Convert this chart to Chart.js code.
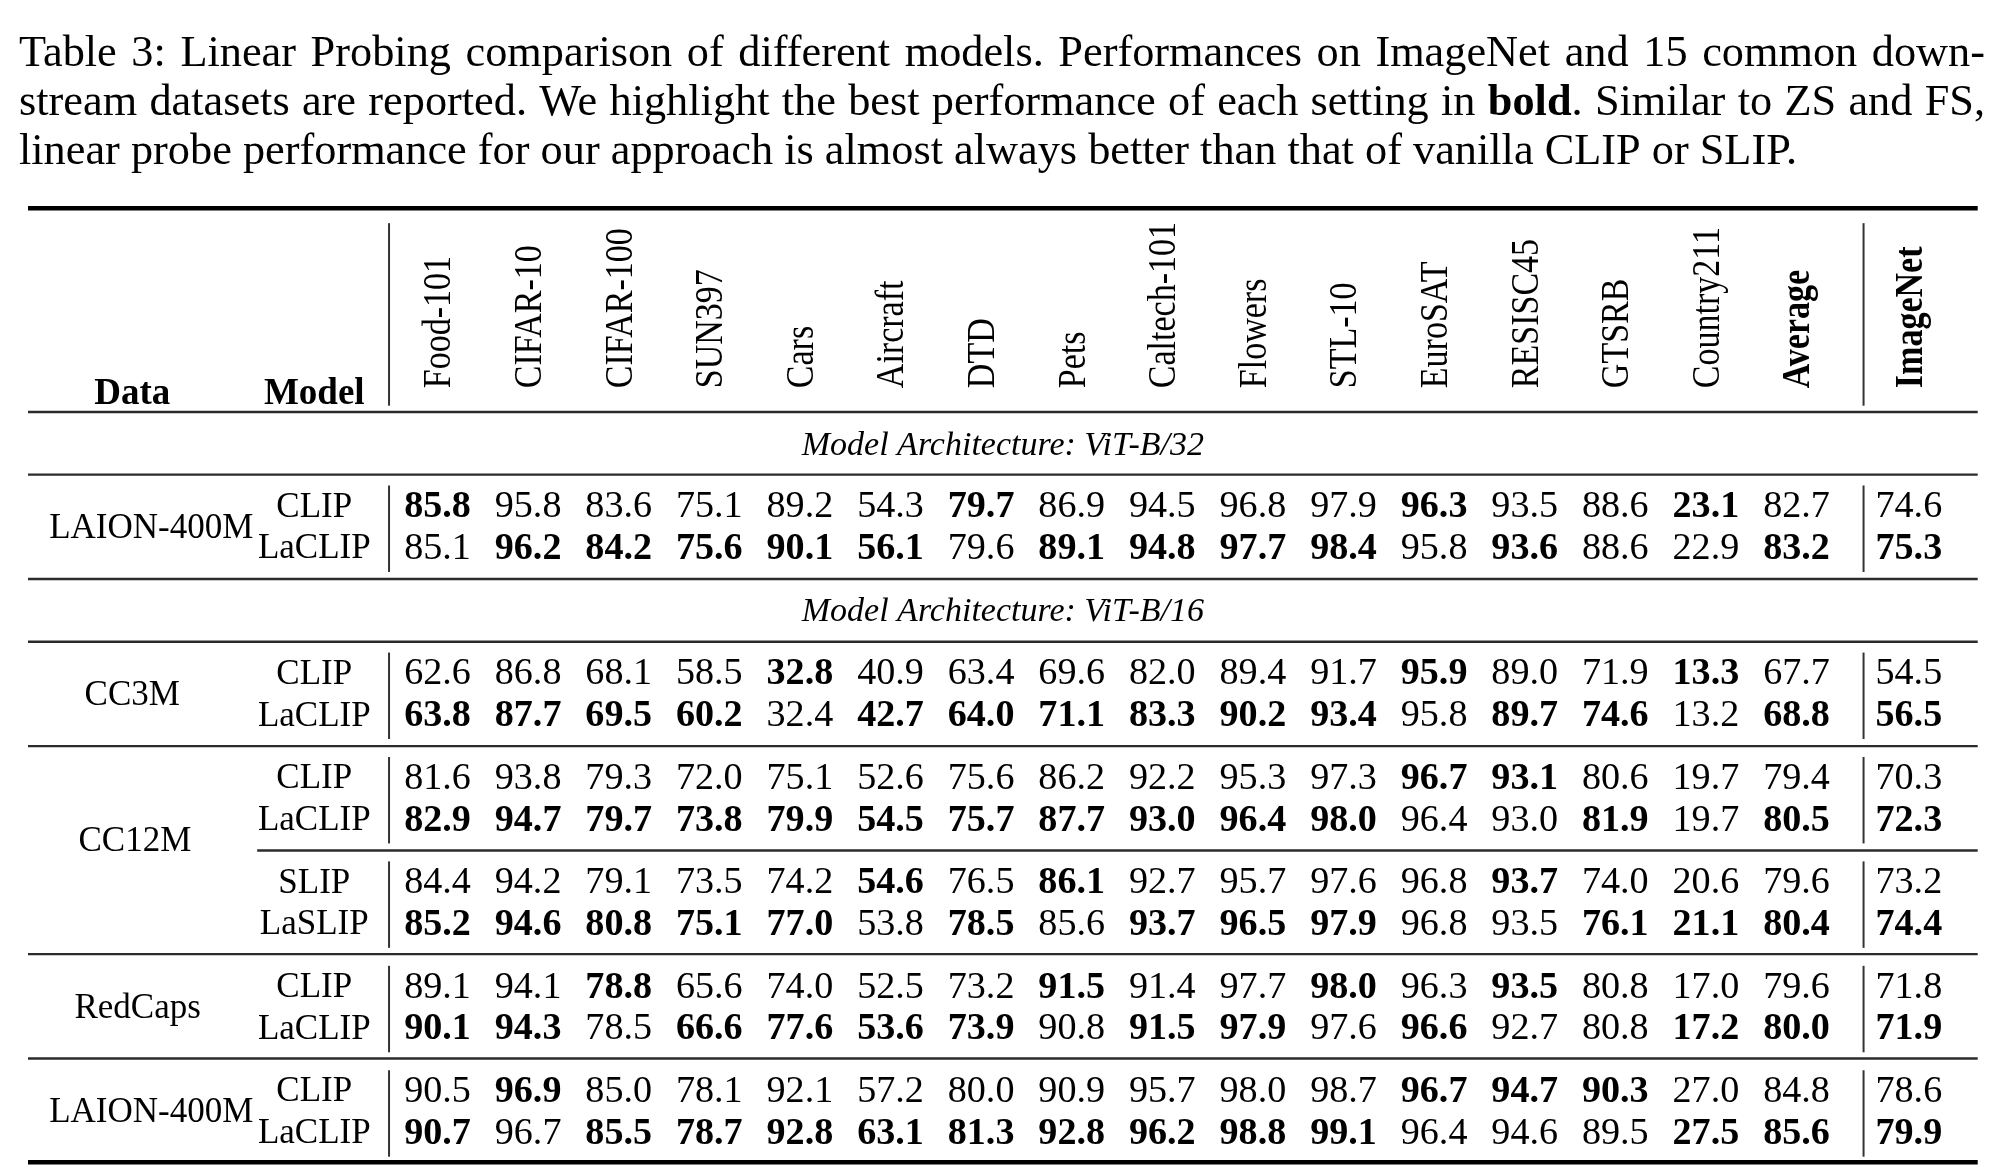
<!DOCTYPE html>
<html>
<head>
<meta charset="utf-8">
<script src="https://cdn.jsdelivr.net/npm/chart.js@4.4.1/dist/chart.umd.min.js"></script>
<style>
  html, body { margin: 0; padding: 0; background: #fff; }
  canvas { display: block; }
</style>
</head>
<body>
<canvas id="tableChart" width="2000" height="1174" style="width:2000px;height:1174px"></canvas>
<script>
// caption text (segments: [text, bold])
const captionLines = [
  [['Table 3: Linear Probing comparison of different models. Performances on ImageNet and 15 common down-', false]],
  [['stream datasets are reported. We highlight the best performance of each setting in ', false], ['bold', true], ['. Similar to ZS and FS,', false]],
  [['linear probe performance for our approach is almost always better than that of vanilla CLIP or SLIP.', false]]
];

// column headers
const columnLabels = ['Food-101', 'CIFAR-10', 'CIFAR-100', 'SUN397', 'Cars', 'Aircraft', 'DTD', 'Pets',
  'Caltech-101', 'Flowers', 'STL-10', 'EuroSAT', 'RESISC45', 'GTSRB', 'Country211', 'Average', 'ImageNet'];
const boldColumns = ['Average', 'ImageNet'];
const architectures = ['Model Architecture: ViT-B/32', 'Model Architecture: ViT-B/16'];
const dataNames = ['LAION-400M', 'CC3M', 'CC12M', 'RedCaps', 'LAION-400M'];
const modelNames = ['CLIP', 'LaCLIP', 'CLIP', 'LaCLIP', 'CLIP', 'LaCLIP', 'SLIP', 'LaSLIP', 'CLIP', 'LaCLIP', 'CLIP', 'LaCLIP'];

// values, one array per row (last value = ImageNet)
const b32LaionClip   = [85.8, 95.8, 83.6, 75.1, 89.2, 54.3, 79.7, 86.9, 94.5, 96.8, 97.9, 96.3, 93.5, 88.6, 23.1, 82.7, 74.6];
const b32LaionLaclip = [85.1, 96.2, 84.2, 75.6, 90.1, 56.1, 79.6, 89.1, 94.8, 97.7, 98.4, 95.8, 93.6, 88.6, 22.9, 83.2, 75.3];
const cc3mClip       = [62.6, 86.8, 68.1, 58.5, 32.8, 40.9, 63.4, 69.6, 82.0, 89.4, 91.7, 95.9, 89.0, 71.9, 13.3, 67.7, 54.5];
const cc3mLaclip     = [63.8, 87.7, 69.5, 60.2, 32.4, 42.7, 64.0, 71.1, 83.3, 90.2, 93.4, 95.8, 89.7, 74.6, 13.2, 68.8, 56.5];
const cc12mClip      = [81.6, 93.8, 79.3, 72.0, 75.1, 52.6, 75.6, 86.2, 92.2, 95.3, 97.3, 96.7, 93.1, 80.6, 19.7, 79.4, 70.3];
const cc12mLaclip    = [82.9, 94.7, 79.7, 73.8, 79.9, 54.5, 75.7, 87.7, 93.0, 96.4, 98.0, 96.4, 93.0, 81.9, 19.7, 80.5, 72.3];
const cc12mSlip      = [84.4, 94.2, 79.1, 73.5, 74.2, 54.6, 76.5, 86.1, 92.7, 95.7, 97.6, 96.8, 93.7, 74.0, 20.6, 79.6, 73.2];
const cc12mLaslip    = [85.2, 94.6, 80.8, 75.1, 77.0, 53.8, 78.5, 85.6, 93.7, 96.5, 97.9, 96.8, 93.5, 76.1, 21.1, 80.4, 74.4];
const redcapsClip    = [89.1, 94.1, 78.8, 65.6, 74.0, 52.5, 73.2, 91.5, 91.4, 97.7, 98.0, 96.3, 93.5, 80.8, 17.0, 79.6, 71.8];
const redcapsLaclip  = [90.1, 94.3, 78.5, 66.6, 77.6, 53.6, 73.9, 90.8, 91.5, 97.9, 97.6, 96.6, 92.7, 80.8, 17.2, 80.0, 71.9];
const b16LaionClip   = [90.5, 96.9, 85.0, 78.1, 92.1, 57.2, 80.0, 90.9, 95.7, 98.0, 98.7, 96.7, 94.7, 90.3, 27.0, 84.8, 78.6];
const b16LaionLaclip = [90.7, 96.7, 85.5, 78.7, 92.8, 63.1, 81.3, 92.8, 96.2, 98.8, 99.1, 96.4, 94.6, 89.5, 27.5, 85.6, 79.9];

// column indices printed in bold
const b32LaionClipBold   = [0, 6, 11, 14];
const b32LaionLaclipBold = [1, 2, 3, 4, 5, 7, 8, 9, 10, 12, 15, 16];
const cc3mClipBold       = [4, 11, 14];
const cc3mLaclipBold     = [0, 1, 2, 3, 5, 6, 7, 8, 9, 10, 12, 13, 15, 16];
const cc12mClipBold      = [11, 12];
const cc12mLaclipBold    = [0, 1, 2, 3, 4, 5, 6, 7, 8, 9, 10, 13, 15, 16];
const cc12mSlipBold      = [5, 7, 12];
const cc12mLaslipBold    = [0, 1, 2, 3, 4, 6, 8, 9, 10, 13, 14, 15, 16];
const redcapsClipBold    = [2, 7, 10, 12];
const redcapsLaclipBold  = [0, 1, 3, 4, 5, 6, 8, 9, 11, 14, 15, 16];
const b16LaionClipBold   = [1, 11, 12, 13];
const b16LaionLaclipBold = [0, 2, 3, 4, 5, 6, 7, 8, 9, 10, 14, 15, 16];

const rows = [
  [b32LaionClip, b32LaionClipBold], [b32LaionLaclip, b32LaionLaclipBold],
  [cc3mClip, cc3mClipBold], [cc3mLaclip, cc3mLaclipBold],
  [cc12mClip, cc12mClipBold], [cc12mLaclip, cc12mLaclipBold],
  [cc12mSlip, cc12mSlipBold], [cc12mLaslip, cc12mLaslipBold],
  [redcapsClip, redcapsClipBold], [redcapsLaclip, redcapsLaclipBold],
  [b16LaionClip, b16LaionClipBold], [b16LaionLaclip, b16LaionLaclipBold]
];

// layout in scale units (x: one unit per dataset column, y: one unit per row)
const colX = [0, 1, 2, 3, 4, 5, 6, 7, 8, 9, 10, 11, 12, 13, 14, 15, 16.24];
const rowY = [0, 1, 4, 5, 6.5, 7.5, 9, 10, 11.5, 12.5, 14, 15];
const dataY = [0.5, 4.5, 8, 12, 14.5];
const dataX = [-3.16, -3.37, -3.34, -3.31, -3.16];
const modelX = -1.36;
const headerY = -2.8;
const archY = [-1.47, 2.5];
const tableLeft = -4.52, tableRight = 17.0;
const hRules = [
  { y: -7.11, w: 4.5 }, { y: -2.23 }, { y: -0.73 }, { y: 1.77 }, { y: 3.27 }, { y: 5.77 },
  { y: 8.27, x0: -1.99 }, { y: 10.75 }, { y: 13.25 }, { y: 15.73, w: 4.5 }
];
const vRuleX = [-0.535, 15.74];
const vSpans = [[-6.75, -2.38], [0, 1], [4, 5], [6.5, 7.5], [9, 10], [11.5, 12.5], [14, 15]];

const FONT = '"Liberation Serif", "Times New Roman", serif';
const styles = {
  cell:    { size: 37, sx: 1.03 },
  model:   { size: 35, sx: 1.0 },
  data:    { size: 35, sx: 1.0 },
  corner:  { size: 37, sx: 1.0, weight: 'bold' },
  arch:    { size: 34, sx: 1.0, italic: true },
  header:  { size: 34, sx: 1.15 }
};

function textSet(kind, texts, xs, ys, extra) {
  return Object.assign({
    kind: kind,
    texts: texts,
    data: texts.map((t, j) => ({ x: xs[j], y: ys[j] })),
    pointRadius: 0,
    pointHoverRadius: 0,
    clip: false
  }, extra || {});
}

const datasets = [];
rows.forEach(([vals, bold], i) => {
  datasets.push(textSet('cell', vals.map(v => v.toFixed(1)), colX, vals.map(() => rowY[i]),
    { boldIdx: bold }));
});
datasets.push(textSet('model', modelNames, modelNames.map(() => modelX), rowY));
datasets.push(textSet('data', dataNames, dataX, dataY));
datasets.push(textSet('header', columnLabels, colX, columnLabels.map(() => headerY),
  { boldIdx: columnLabels.map((c, j) => boldColumns.includes(c) ? j : -1) }));
datasets.push(textSet('corner', ['Data', 'Model'], [-3.37, modelX], [-2.72, -2.72]));
datasets.push(textSet('arch', architectures, architectures.map(() => (tableLeft + tableRight) / 2), archY));

function fontOf(st, bold) {
  return (st.italic ? 'italic ' : '') + ((bold || st.weight === 'bold') ? 'bold ' : '') + st.size + 'px ' + FONT;
}

function drawCaption(ctx) {
  const size = 44, left = 19, right = 1985, firstBase = 66, pitch = 49;
  const words = captionLines.map(segs => {
    const ws = [[]];
    segs.forEach(([t, b]) => {
      t.split(/( )/).forEach(p => {
        if (p === ' ') ws.push([]);
        else if (p) ws[ws.length - 1].push([p, b]);
      });
    });
    return ws.filter(w => w.length);
  });
  const fnt = b => (b ? 'bold ' : '') + size + 'px ' + FONT;
  const wordWidth = w => w.reduce((s, [p, b]) => { ctx.font = fnt(b); return s + ctx.measureText(p).width; }, 0);
  ctx.font = fnt(false);
  const space = ctx.measureText(' ').width;
  const last = words[words.length - 1];
  const lastNat = last.reduce((s, w) => s + wordWidth(w), 0) + space * (last.length - 1);
  const sx = 1778 / lastNat;
  ctx.save();
  ctx.fillStyle = '#000';
  ctx.textBaseline = 'alphabetic';
  ctx.textAlign = 'left';
  words.forEach((ws, li) => {
    const widths = ws.map(wordWidth);
    const total = widths.reduce((a, b) => a + b, 0);
    const gap = li < words.length - 1 ? ((right - left) / sx - total) / (ws.length - 1) : space;
    ctx.save();
    ctx.translate(left, firstBase + li * pitch);
    ctx.scale(sx, 1);
    let x = 0;
    ws.forEach((w, k) => {
      w.forEach(([p, b]) => {
        ctx.font = fnt(b);
        ctx.fillText(p, x, 0);
        x += ctx.measureText(p).width;
      });
      x += gap;
    });
    ctx.restore();
  });
  ctx.restore();
}

const tablePlugin = {
  id: 'tablePlugin',
  afterDatasetsDraw(chart) {
    const ctx = chart.ctx;
    const xs = chart.scales.x, ys = chart.scales.y;
    ctx.save();
    // horizontal rules
    hRules.forEach(r => {
      ctx.beginPath();
      ctx.strokeStyle = r.w ? '#000' : '#2b2b2b';
      ctx.lineWidth = r.w || 2.4;
      const y = ys.getPixelForValue(r.y);
      ctx.moveTo(xs.getPixelForValue(r.x0 !== undefined ? r.x0 : tableLeft), y);
      ctx.lineTo(xs.getPixelForValue(tableRight), y);
      ctx.stroke();
    });
    // vertical rules
    ctx.strokeStyle = '#333';
    ctx.lineWidth = 2;
    vSpans.forEach(([a, b], k) => {
      const y0 = k === 0 ? a : a - 0.47, y1 = k === 0 ? b : b + 0.6;
      vRuleX.forEach(vx => {
        const x = xs.getPixelForValue(vx);
        ctx.beginPath();
        ctx.moveTo(x, ys.getPixelForValue(y0));
        ctx.lineTo(x, ys.getPixelForValue(y1));
        ctx.stroke();
      });
    });
    // text
    ctx.fillStyle = '#000';
    ctx.textBaseline = 'alphabetic';
    chart.data.datasets.forEach((ds, i) => {
      const st = styles[ds.kind];
      chart.getDatasetMeta(i).data.forEach((pt, j) => {
        const bold = ds.boldIdx ? ds.boldIdx.includes(j) : false;
        ctx.save();
        ctx.font = fontOf(st, bold);
        if (ds.kind === 'header') {
          ctx.translate(pt.x + 0.33 * st.size * st.sx, pt.y);
          ctx.scale(st.sx, 1);
          ctx.rotate(-Math.PI / 2);
          ctx.textAlign = 'left';
          ctx.fillText(ds.texts[j], 0, 0);
        } else {
          ctx.translate(pt.x, pt.y + 0.33 * st.size);
          ctx.scale(st.sx, 1);
          ctx.textAlign = 'center';
          ctx.fillText(ds.texts[j], 0, 0);
        }
        ctx.restore();
      });
    });
    ctx.restore();
    drawCaption(ctx);
  }
};

new Chart(document.getElementById('tableChart'), {
  type: 'scatter',
  data: { datasets: datasets },
  options: {
    responsive: false,
    animation: false,
    devicePixelRatio: 1,
    events: [],
    layout: { padding: 0 },
    plugins: { legend: { display: false }, tooltip: { enabled: false } },
    scales: {
      x: { type: 'linear', display: false, min: -4.829, max: 17.246 },
      y: { type: 'linear', display: false, reverse: true, min: -12.093, max: 16.014 }
    }
  },
  plugins: [tablePlugin]
});
</script>
</body>
</html>
